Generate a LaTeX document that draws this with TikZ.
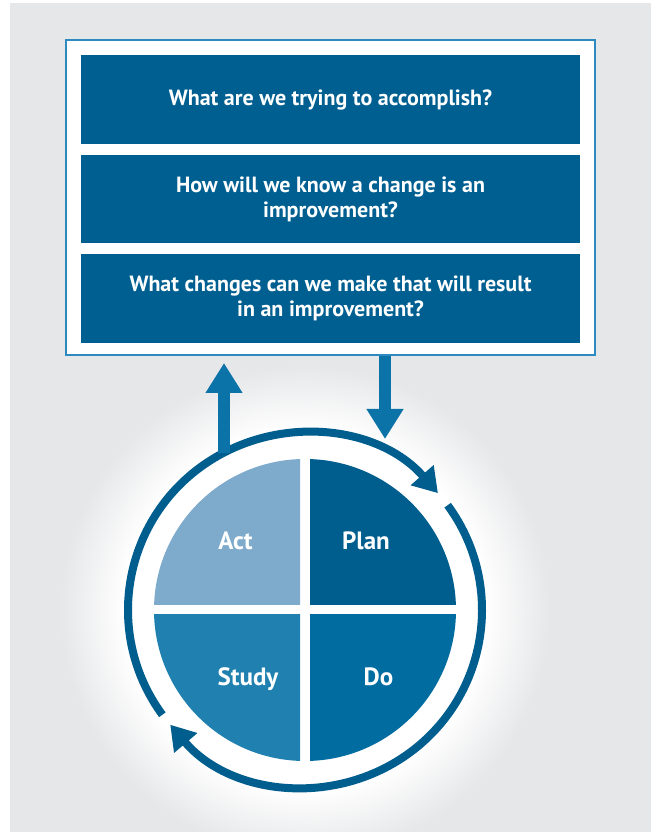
\documentclass[tikz,border=0pt]{standalone}
\usepackage{fontspec}
\setmainfont{PT Sans}
\usetikzlibrary{arrows.meta}
\definecolor{bggrey}{RGB}{230,231,233}
\definecolor{boxblue}{RGB}{0,95,145}
\definecolor{planc}{RGB}{0,94,142}
\definecolor{doc}{RGB}{0,108,159}
\definecolor{studyc}{RGB}{32,128,175}
\definecolor{actc}{RGB}{126,170,204}
\definecolor{ringc}{RGB}{0,94,142}
\definecolor{arrc}{RGB}{12,115,168}
\definecolor{framec}{RGB}{45,138,192}
\pgfdeclareradialshading{glow}{\pgfpoint{0bp}{0bp}}{color(0bp)=(white); color(18bp)=(white); color(24.5bp)=(bggrey); color(50bp)=(bggrey)}
\tikzset{
  qbox/.style={fill=boxblue, minimum width=499pt, inner sep=0pt, outer sep=0pt, align=center,
    text=white, font=\fontsize{22}{25}\selectfont\bfseries},
  framebox/.style={draw=framec, line width=2pt, fill=white, minimum width=529pt, minimum height=315pt, inner sep=0pt},
  qlabel/.style={text=white, font=\fontsize{25}{28}\selectfont\bfseries, anchor=base, inner sep=0pt},
  ringarc/.style={draw=ringc, line width=8pt, -{Triangle[length=24pt,width=29pt]}},
  vertarrow/.style={draw=arrc, line width=12pt, -{Triangle[length=30pt,width=35pt]}}
}
\begin{document}
\begin{tikzpicture}[x=1pt,y=1pt]
\useasboundingbox (0,0) rectangle (651,832);
\fill[bggrey] (10,0) rectangle (651,829);
% glow behind the cycle
\shade[shading=glow] (305,222) circle (250);
% frame and questions
\node[framebox] (frame) at (330.5,634.5) {};
\node[qbox, minimum height=89pt] (q1) at (330.5,732.5) {What are we trying to accomplish?};
\node[qbox, minimum height=88pt] (q2) at (330.5,633) {How will we know a change is an\\improvement?};
\node[qbox, minimum height=89pt] (q3) at (330.5,533.5) {What changes can we make that will result\\in an improvement?};
% quadrants
\coordinate (c) at (305,222);
\begin{scope}\clip (310,227) rectangle (470,380); \fill[planc] (c) circle (151); \end{scope}
\begin{scope}\clip (300,227) rectangle (140,380); \fill[actc] (c) circle (151); \end{scope}
\begin{scope}\clip (310,217) rectangle (470,60); \fill[doc] (c) circle (151); \end{scope}
\begin{scope}\clip (300,217) rectangle (140,60); \fill[studyc] (c) circle (151); \end{scope}
\node[qlabel] (act) at (235.5,282) {Act};
\node[qlabel] (plan) at (366,282) {Plan};
\node[qlabel] (study) at (248,146) {Study};
\node[qlabel] (do) at (378.5,146) {Do};
% ring arrows
\draw[ringarc, shift={(305,222)}] (216.3:177) arc[start angle=216.3, end angle=41.3, radius=177];
\draw[ringarc, shift={(305,222)}] (36.3:177) arc[start angle=36.3, end angle=-139.6, radius=177];
% vertical arrows
\coordinate (upstart) at (224,379);
\coordinate (downend) at (385,393);
\draw[vertarrow, shorten >=7pt] (upstart) -- (upstart |- frame.south);
\draw[vertarrow] (frame.south -| downend) -- (downend);
\end{tikzpicture}
\end{document}
